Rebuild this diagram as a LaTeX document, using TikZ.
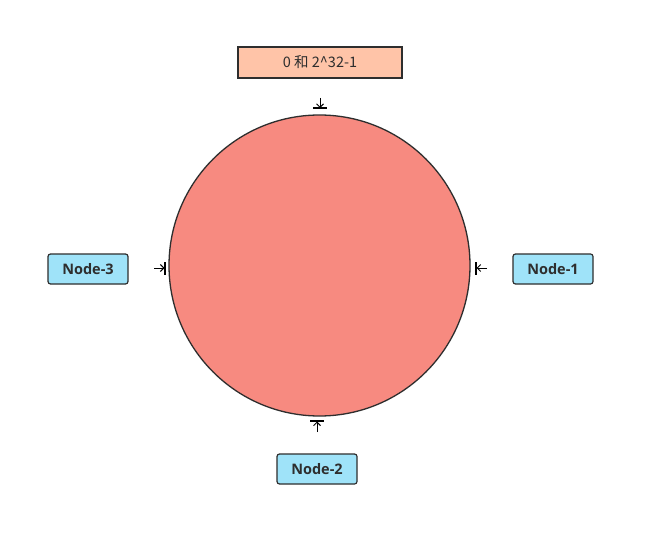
\documentclass[tikz,border=0pt]{standalone}
\usepackage{fontspec}
\setmainfont{Open Sans}
\newfontfamily\cjk{Noto Sans CJK SC}
\usetikzlibrary{arrows.meta}
\definecolor{ringfill}{HTML}{F78A80}
\definecolor{topfill}{HTML}{FFC4A8}
\definecolor{nodefill}{HTML}{9FE3F9}
\definecolor{edge}{HTML}{2E2E2E}
\tikzset{
  nodebox/.style={draw=edge, line width=1.2pt, fill=nodefill, rounded corners=2.5pt,
    minimum width=80pt, minimum height=30pt, inner sep=0pt,
    font=\fontsize{14.5}{16}\selectfont\bfseries, text=edge},
  topbox/.style={draw=edge, line width=1.2pt, fill=topfill,
    minimum width=164pt, minimum height=31pt, inner sep=0pt,
    font=\cjk\fontsize{14.5}{16}\selectfont, text=edge},
  marker/.style={draw=black, line width=1pt, -{Straight Barb[length=3.5pt,width=7pt]}},
  barline/.style={draw=black, line width=1.1pt}
}
\begin{document}
\begin{tikzpicture}[x=1pt,y=-1pt]
\useasboundingbox (0,0) rectangle (655,545);
\fill[white] (0,0) rectangle (655,545);
\node[draw=edge, line width=1.3pt, fill=ringfill, circle, minimum size=301pt, inner sep=0pt] (ring) at (319.5,265.5) {};
\node[topbox] (top) at (320,62.5) {0 和 2\^{}32-1};
\node[nodebox] (n3) at (88,269) {Node-3};
\node[nodebox] (n1) at (553,269) {Node-1};
\node[nodebox] (n2) at (317,469) {Node-2};
% markers
\coordinate (tA) at (320,98);
\coordinate (tB) at (320,108);
\draw[marker] (tA) -- (tB);
\draw[barline] (313,108) -- (327,108);
\coordinate (lA) at (154,268);
\coordinate (lB) at (164.5,268);
\draw[marker] (lA) -- (lB);
\draw[barline] (165,262) -- (165,275);
\coordinate (rA) at (487,268);
\coordinate (rB) at (476.5,268);
\draw[marker] (rA) -- (rB);
\draw[barline] (476,262) -- (476,275);
\coordinate (bA) at (317,432);
\coordinate (bB) at (317,421.5);
\draw[marker] (bA) -- (bB);
\draw[barline] (310,421) -- (324,421);
\end{tikzpicture}
\end{document}
